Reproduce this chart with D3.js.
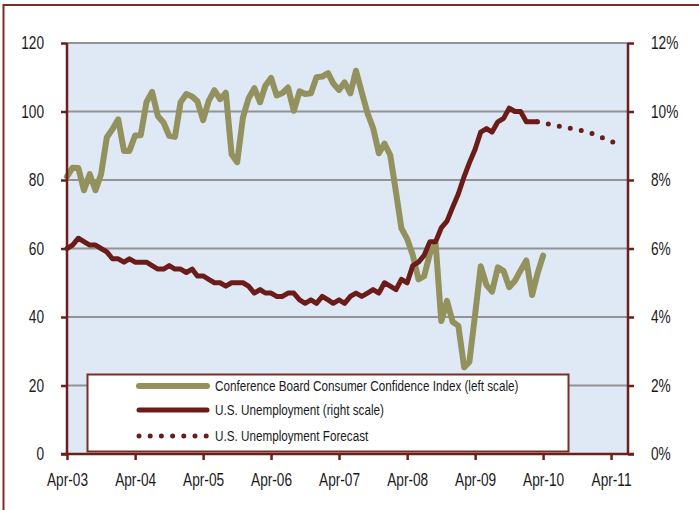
<!DOCTYPE html>
<html>
<head>
  <style>
    body {
      margin: 0;
      background: white;
    }
    svg text {
      font-family: "Liberation Sans", Arial, sans-serif;
      fill: #1a1a1a;
    }
  </style>
</head>
<body>
  <script src="https://d3js.org/d3.v7.min.js"></script>
  <script>
    var width = 699, height = 510;

    // monthly, Apr-03 .. Apr-10
    var cciStart = "2003-04";
    var cci = [
      81.0, 83.6, 83.5, 77.0, 81.7, 77.0, 81.7, 92.5, 94.8,
      97.7, 88.5, 88.5, 93.0, 93.1, 102.8, 105.7, 98.7, 96.7, 92.9, 92.6, 102.7,
      105.1, 104.4, 103.0, 97.5, 103.1, 106.2, 103.6, 105.5, 87.5, 85.2, 98.3, 103.8,
      106.8, 102.7, 107.5, 109.8, 104.7, 105.4, 107.0, 100.2, 105.9, 105.1, 105.3, 110.0,
      110.2, 111.2, 108.2, 106.3, 108.5, 105.3, 111.9, 105.6, 99.5, 95.2, 87.8, 90.6,
      87.3, 76.4, 65.9, 62.8, 58.1, 51.0, 51.9, 58.5, 61.4, 38.8, 44.7, 38.6,
      37.4, 25.3, 26.9, 40.8, 54.8, 49.3, 47.4, 54.5, 53.4, 48.7, 50.6, 53.6,
      56.5, 46.4, 52.5, 57.9
    ];

    // monthly %, Apr-03 .. Mar-10
    var unempStart = "2003-04";
    var unemp = [
      6.0, 6.1, 6.3, 6.2, 6.1, 6.1, 6.0, 5.9, 5.7,
      5.7, 5.6, 5.7, 5.6, 5.6, 5.6, 5.5, 5.4, 5.4, 5.5, 5.4, 5.4,
      5.3, 5.4, 5.2, 5.2, 5.1, 5.0, 5.0, 4.9, 5.0, 5.0, 5.0, 4.9,
      4.7, 4.8, 4.7, 4.7, 4.6, 4.6, 4.7, 4.7, 4.5, 4.4, 4.5, 4.4,
      4.6, 4.5, 4.4, 4.5, 4.4, 4.6, 4.7, 4.6, 4.7, 4.8, 4.7, 5.0,
      4.9, 4.8, 5.1, 5.0, 5.5, 5.6, 5.8, 6.2, 6.2, 6.6, 6.8, 7.2,
      7.6, 8.1, 8.5, 8.9, 9.4, 9.5, 9.4, 9.7, 9.8, 10.1, 10.0, 10.0,
      9.7, 9.7, 9.7
    ];

    var forecastDates = ["2010-03", "2010-06", "2010-09", "2010-12", "2011-03", "2011-06"];
    var forecast = [9.7, 9.6, 9.5, 9.4, 9.2, 9.0];

    var leftTicks = [0, 20, 40, 60, 80, 100, 120];
    var rightTicks = [0, 2, 4, 6, 8, 10, 12];

    var legendLabels = [
      "Conference Board Consumer Confidence Index (left scale)",
      "U.S. Unemployment (right scale)",
      "U.S. Unemployment Forecast"
    ];

    var parseMonth = d3.timeParse("%Y-%m");
    function monthly(start, values) {
      var d0 = parseMonth(start);
      return values.map((v, i) => ({ date: d3.timeMonth.offset(d0, i), value: v }));
    }
    var cciData = monthly(cciStart, cci);
    var unempData = monthly(unempStart, unemp);
    var fcData = forecastDates.map((d, i) => ({ date: parseMonth(d), value: forecast[i] }));

    var pLeft = 67, pRight = 628, pTop = 43, pBottom = 454;
    var maroon = "#6b1c19", olive = "#93915d", axisCol = "#6e1f1b";
    var squeeze = 0.76;   // the original uses a condensed face

    var x = d3.scaleTime()
      .domain([parseMonth("2003-04"), parseMonth("2011-07")])
      .range([pLeft, pRight]);
    var yL = d3.scaleLinear().domain([0, 120]).range([pBottom, pTop]);
    var yR = d3.scaleLinear().domain([0, 12]).range([pBottom, pTop]);

    var svg = d3.select("body").append("svg")
      .attr("width", width).attr("height", height);

    // outer frame
    svg.append("rect")
      .attr("x", 3.5).attr("y", 5).attr("width", 720).attr("height", 530)
      .attr("fill", "none").attr("stroke", "#7a2e28").attr("stroke-width", 2);

    svg.append("rect")
      .attr("x", pLeft).attr("y", pTop).attr("width", pRight - pLeft).attr("height", pBottom - pTop)
      .attr("fill", "#dfe9f5");

    // gridlines
    svg.append("g").selectAll("line")
      .data(leftTicks.slice(1))
      .join("line")
      .attr("x1", pLeft).attr("x2", pRight)
      .attr("y1", d => yL(d)).attr("y2", d => yL(d))
      .attr("stroke", "#939393").attr("stroke-width", 2);

    var line = sc => d3.line().x(d => x(d.date)).y(d => sc(d.value));

    svg.append("path").datum(cciData)
      .attr("d", line(yL))
      .attr("fill", "none").attr("stroke", olive)
      .attr("stroke-width", 6).attr("stroke-linejoin", "round").attr("stroke-linecap", "round");

    svg.append("path").datum(unempData)
      .attr("d", line(yR))
      .attr("fill", "none").attr("stroke", maroon)
      .attr("stroke-width", 5).attr("stroke-linejoin", "round").attr("stroke-linecap", "round");

    svg.append("path").datum(fcData)
      .attr("d", line(yR))
      .attr("fill", "none").attr("stroke", maroon)
      .attr("stroke-width", 5).attr("stroke-linecap", "round")
      .attr("stroke-dasharray", "0 11.2");

    // axes
    var yAxisL = d3.axisLeft(yL).tickValues(leftTicks).tickSize(6).tickPadding(17);
    var yAxisR = d3.axisRight(yR).tickValues(rightTicks).tickSize(6).tickPadding(17)
      .tickFormat(d => d + "%");
    var xAxis = d3.axisBottom(x)
      .ticks(d3.timeMonth.filter(d => d.getMonth() === 3))
      .tickFormat(d3.timeFormat("%b-%y"))
      .tickSize(6).tickPadding(13);

    function condense(sel, sx) {
      sel.each(function() {
        var t = d3.select(this);
        var tx = +t.attr("x") || 0;
        t.attr("x", tx / sx).attr("transform", "scale(" + sx + ",1)");
      });
    }

    function styleAxis(g) {
      g.select(".domain").remove();
      g.selectAll(".tick line").attr("stroke", axisCol).attr("stroke-width", 2.5);
      g.selectAll(".tick text").attr("font-size", 18).attr("fill", "#1a1a1a").call(condense, squeeze);
      g.attr("font-family", null);
    }

    svg.append("g").attr("transform", "translate(" + pLeft + ",0)").call(yAxisL).call(styleAxis);
    svg.append("g").attr("transform", "translate(" + pRight + ",0)").call(yAxisR).call(styleAxis);
    svg.append("g").attr("transform", "translate(0," + pBottom + ")").call(xAxis).call(styleAxis);

    svg.append("line").attr("x1", pLeft).attr("x2", pLeft).attr("y1", pTop).attr("y2", pBottom)
      .attr("stroke", axisCol).attr("stroke-width", 2.5);
    svg.append("line").attr("x1", pRight).attr("x2", pRight).attr("y1", pTop).attr("y2", pBottom)
      .attr("stroke", axisCol).attr("stroke-width", 2.5);

    // legend
    var lg = svg.append("g");
    lg.append("rect")
      .attr("x", 87.5).attr("y", 374.5).attr("width", 481).attr("height", 77)
      .attr("fill", "white").attr("stroke", "#7a2e28").attr("stroke-width", 2);

    var rows = [
      { color: olive, w: 6, dash: null },
      { color: maroon, w: 5, dash: null },
      { color: maroon, w: 5, dash: "0 11.2" }
    ];
    var rowY = [386, 410, 436];
    rows.forEach((r, i) => {
      lg.append("line")
        .attr("x1", 139).attr("x2", 207).attr("y1", rowY[i]).attr("y2", rowY[i])
        .attr("stroke", r.color).attr("stroke-width", r.w).attr("stroke-linecap", "round")
        .attr("stroke-dasharray", r.dash);
      lg.append("text")
        .attr("x", 215).attr("y", rowY[i]).attr("dy", "0.35em")
        .attr("font-size", 15)
        .text(legendLabels[i])
        .call(condense, 0.78);
    });

    // bottom axis line over everything
    svg.append("line").attr("x1", pLeft - 6).attr("x2", pRight + 6).attr("y1", pBottom).attr("y2", pBottom)
      .attr("stroke", axisCol).attr("stroke-width", 2.5);
  </script>
</body>
</html>
